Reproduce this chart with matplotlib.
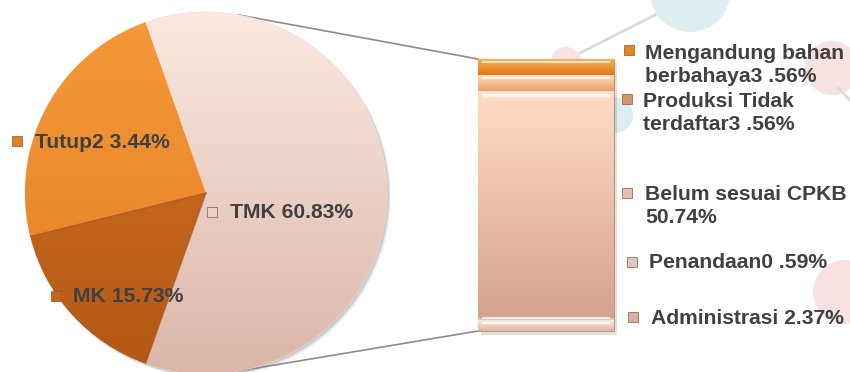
"""
Pie-of-bar: hasil pemeriksaan (TMK dirinci per kategori)
"""

import numpy as np
import matplotlib
matplotlib.use("Agg")
import matplotlib.pyplot as plt
from matplotlib.patches import Circle
from matplotlib.colors import LinearSegmentedColormap

# pie data
pie_labels = ["Tutup2 3.44%", "MK 15.73%", "TMK 60.83%"]
pie_values = [23.44, 15.73, 60.83]

# breakdown of TMK, bottom to top of the bar
bar_labels = ["Administrasi 2.37%", "Penandaan0 .59%", "Belum sesuai CPKB\n50.74%",
              "Produksi Tidak\nterdaftar3 .56%", "Mengandung bahan\nberbahaya3 .56%"]
bar_values = [2.37, 0.59, 50.74, 3.56, 3.56]

# colours (top, bottom of gradient)
pie_colors = [("#F49A3A", "#E47E22"), ("#D67424", "#B25716"), ("#FCE9E0", "#DBB6A8")]
bar_colors = [("#FBE9E0", "#DDB5A3"), ("#F3DBD0", "#E2BDAE"), ("#FFDCC6", "#D4A38D"),
              ("#FFE0B8", "#E9A06A"), ("#F9AE4E", "#DC7A1C")]
marker_colors = ["#E0801F", "#C2661C", "#E4D2CC"]
bar_marker_colors = ["#D9AE9C", "#D8C6C0", "#E2BFB0", "#D8956A", "#E3861F"]
text_color = "#404040"

W, H = 850, 372
fig = plt.figure(figsize=(W / 100, H / 100), dpi=100)
ax = fig.add_axes([0, 0, 1, 1])


def shade(patch, top, bottom, extent):
    # vertical gradient clipped to a patch
    cmap = LinearSegmentedColormap.from_list("g", [bottom, top])
    grad = np.linspace(0, 1, 256)[:, None]
    im = ax.imshow(grad, cmap=cmap, extent=extent, origin="lower",
                   aspect="auto", zorder=patch.get_zorder() + 0.1,
                   interpolation="bilinear")
    im.set_clip_path(patch)
    return im


# background decoration of the slide
deco = [((690, 380), 40, "#DCEEF0"), ((566, 310), 15, "#F8E1E1"),
        ((832, 304), 27, "#F8E1E1"), ((615, 257), 18, "#DCEEF0"),
        ((845, 80), 32, "#F8E1E1")]
for c, r, col in deco:
    ax.add_patch(Circle(c, r, color=col, zorder=0, lw=0))
ax.plot([580, 655], [319, 357], color="#DADADA", lw=2, zorder=0)
ax.plot([838, 852], [284, 270], color="#DADADA", lw=2, zorder=0)

# pie
cx, cy, R = 206, 179, 181
for k, a in enumerate([0.10, 0.07, 0.04]):
    ax.add_patch(Circle((cx + 2 + k, cy - 2 - k), R, color="black", alpha=a,
                        lw=0, zorder=1))
wedges, _ = ax.pie(pie_values, center=(cx, cy), radius=R,
                   startangle=pie_values[2] * 1.8, counterclock=True,
                   colors=[c[1] for c in pie_colors], frame=True,
                   wedgeprops=dict(lw=0.6, edgecolor="#F3E3DA", zorder=2))
for w, (top, bot) in zip(wedges, pie_colors):
    shade(w, top, bot, (cx - R, cx + R, cy - R, cy + R))
# darker seam between the orange slices
for w in wedges[:2]:
    th = np.deg2rad(w.theta2)
    ax.plot([cx, cx + R * np.cos(th)], [cy, cy + R * np.sin(th)],
            color="#9A4A12", lw=1.0, alpha=0.6, zorder=3)

# bar
bx, bw = 546, 136
b_bottom, b_top = 41, 313
scale = (b_top - b_bottom) / sum(bar_values)
heights = np.array(bar_values) * scale
bottoms = b_bottom + np.concatenate([[0], np.cumsum(heights)[:-1]])
ax.bar(bx + 3, b_top - b_bottom, width=bw, bottom=b_bottom - 4,
       color="black", alpha=0.12, zorder=1)
bars = ax.bar(bx, heights, width=bw, bottom=bottoms,
              color=[c[1] for c in bar_colors], edgecolor="#C08A72",
              linewidth=0.6, zorder=2)
for b, (top, bot) in zip(bars, bar_colors):
    x0, y0 = b.get_x(), b.get_y()
    shade(b, top, bot, (x0, x0 + b.get_width(), y0, y0 + b.get_height()))
    # light bevel line near the top of each segment
    hl = y0 + b.get_height() * 0.8 if b.get_height() < 20 else y0 + b.get_height() - 4
    ax.plot([x0 + 4, x0 + b.get_width() - 4], [hl, hl], color="white",
            lw=1.6 if b.get_height() < 20 else 2.5, alpha=0.75, zorder=3,
            solid_capstyle="butt")

# connector lines from pie edge to bar corners
ang = np.deg2rad(80)
x_l = bx - bw / 2
ax.plot([cx + R * np.cos(ang), x_l], [cy + R * np.sin(ang), b_top],
        color="#8C8C8C", lw=1.2, zorder=1.5)
ax.plot([cx + R * np.cos(ang), x_l], [cy - R * np.sin(ang), b_bottom],
        color="#8C8C8C", lw=1.2, zorder=1.5)

# labels
font = dict(family=["Liberation Sans", "DejaVu Sans"], fontsize=15.2,
            fontweight="bold", color=text_color, zorder=5)
pie_pos = [(17, 35, 230), (56, 73, 75), (212, 230, 159)]
for (mx, tx, ty), lab, mc in zip(pie_pos, pie_labels, marker_colors):
    ax.plot(mx, ty + 1, marker="s", ms=7, mfc=mc, mec="#8A5A3A", mew=0.5,
            zorder=5)
    ax.text(tx, ty, lab, ha="left", va="center", **font)

bar_pos = [(633, 651, 54), (632, 649, 109), (627, 645, 166),
           (627, 643, 259), (629, 645, 307)]
marker_y = [55, 110, 179, 273, 322]
for (mx, tx, ty), my, lab, mc in zip(bar_pos, marker_y, bar_labels,
                                      bar_marker_colors):
    ax.plot(mx, my, marker="s", ms=7, mfc=mc, mec="#8A5A3A", mew=0.5,
            zorder=5)
    ax.text(tx, ty, lab, ha="left", va="center", linespacing=1.22, **font)

ax.set_xlim(0, W)
ax.set_ylim(0, H)
ax.set_aspect("auto")
ax.axis("off")
fig.savefig("out.png", dpi=100)
